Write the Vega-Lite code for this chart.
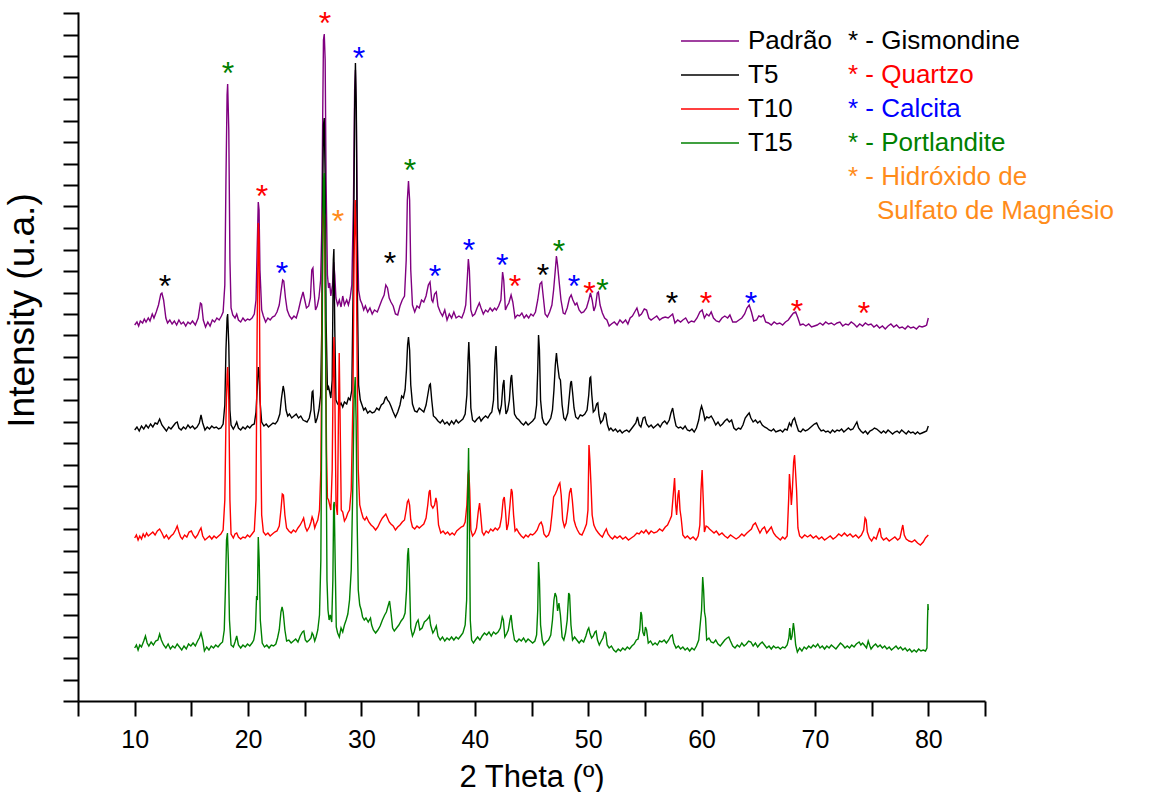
{
  "$schema": "https://vega.github.io/schema/vega-lite/v6.json",
  "width": 907,
  "height": 689,
  "autosize": "none",
  "padding": {"left": 78, "top": 12, "right": 180, "bottom": 91},
  "datasets": {
    "padrao": [
      {"theta":10.0,"int":376},{"theta":10.2,"int":379},{"theta":10.35,"int":375},{"theta":10.5,"int":380},{"theta":10.7,"int":378},{"theta":10.85,"int":382},{"theta":11.0,"int":379},{"theta":11.2,"int":383},{"theta":11.35,"int":380},{"theta":11.55,"int":387},{"theta":11.7,"int":383},{"theta":11.9,"int":389},{"theta":12.1,"int":396},{"theta":12.3,"int":407},{"theta":12.4,"int":408},{"theta":12.55,"int":401},{"theta":12.75,"int":383},{"theta":12.9,"int":378},{"theta":13.1,"int":381},{"theta":13.3,"int":377},{"theta":13.5,"int":380},{"theta":13.7,"int":376},{"theta":13.9,"int":381},{"theta":14.1,"int":377},{"theta":14.3,"int":379},{"theta":14.5,"int":375},{"theta":14.7,"int":379},{"theta":14.9,"int":377},{"theta":15.1,"int":380},{"theta":15.35,"int":376},{"theta":15.6,"int":383},{"theta":15.8,"int":398},{"theta":15.9,"int":397},{"theta":16.05,"int":381},{"theta":16.25,"int":374},{"theta":16.45,"int":379},{"theta":16.65,"int":375},{"theta":16.85,"int":381},{"theta":17.05,"int":379},{"theta":17.25,"int":383},{"theta":17.45,"int":381},{"theta":17.65,"int":385},{"theta":17.8,"int":389},{"theta":17.95,"int":416},{"theta":18.05,"int":521},{"theta":18.15,"int":606},{"theta":18.2,"int":617},{"theta":18.3,"int":571},{"theta":18.4,"int":441},{"theta":18.5,"int":393},{"theta":18.65,"int":386},{"theta":18.85,"int":383},{"theta":19.0,"int":387},{"theta":19.15,"int":381},{"theta":19.35,"int":379},{"theta":19.55,"int":383},{"theta":19.75,"int":380},{"theta":19.95,"int":382},{"theta":20.15,"int":381},{"theta":20.35,"int":383},{"theta":20.55,"int":387},{"theta":20.7,"int":401},{"theta":20.8,"int":451},{"theta":20.9,"int":499},{"theta":20.97,"int":491},{"theta":21.05,"int":431},{"theta":21.2,"int":391},{"theta":21.35,"int":385},{"theta":21.55,"int":379},{"theta":21.75,"int":383},{"theta":21.95,"int":381},{"theta":22.15,"int":384},{"theta":22.35,"int":385},{"theta":22.55,"int":389},{"theta":22.75,"int":396},{"theta":22.9,"int":409},{"theta":23.05,"int":421},{"theta":23.15,"int":420},{"theta":23.3,"int":403},{"theta":23.45,"int":391},{"theta":23.65,"int":385},{"theta":23.85,"int":382},{"theta":24.05,"int":385},{"theta":24.25,"int":383},{"theta":24.45,"int":391},{"theta":24.65,"int":401},{"theta":24.85,"int":409},{"theta":25.0,"int":401},{"theta":25.15,"int":393},{"theta":25.35,"int":395},{"theta":25.5,"int":403},{"theta":25.62,"int":431},{"theta":25.72,"int":433},{"theta":25.82,"int":411},{"theta":25.95,"int":391},{"theta":26.1,"int":395},{"theta":26.25,"int":403},{"theta":26.4,"int":421},{"theta":26.5,"int":471},{"theta":26.58,"int":581},{"theta":26.65,"int":661},{"theta":26.72,"int":667},{"theta":26.8,"int":641},{"theta":26.88,"int":521},{"theta":27.0,"int":426},{"theta":27.1,"int":413},{"theta":27.2,"int":418},{"theta":27.3,"int":405},{"theta":27.45,"int":416},{"theta":27.55,"int":439},{"theta":27.65,"int":426},{"theta":27.75,"int":403},{"theta":27.9,"int":396},{"theta":28.05,"int":401},{"theta":28.2,"int":394},{"theta":28.35,"int":405},{"theta":28.5,"int":396},{"theta":28.7,"int":401},{"theta":28.85,"int":396},{"theta":29.0,"int":403},{"theta":29.15,"int":416},{"theta":29.3,"int":501},{"theta":29.4,"int":611},{"theta":29.47,"int":631},{"theta":29.55,"int":581},{"theta":29.65,"int":461},{"theta":29.75,"int":411},{"theta":29.9,"int":401},{"theta":30.05,"int":397},{"theta":30.2,"int":391},{"theta":30.35,"int":395},{"theta":30.55,"int":389},{"theta":30.75,"int":393},{"theta":30.95,"int":387},{"theta":31.15,"int":391},{"theta":31.4,"int":389},{"theta":31.6,"int":395},{"theta":31.8,"int":401},{"theta":32.0,"int":406},{"theta":32.15,"int":416},{"theta":32.3,"int":413},{"theta":32.45,"int":403},{"theta":32.6,"int":399},{"theta":32.8,"int":395},{"theta":33.0,"int":387},{"theta":33.2,"int":386},{"theta":33.4,"int":395},{"theta":33.6,"int":401},{"theta":33.8,"int":405},{"theta":33.95,"int":441},{"theta":34.05,"int":501},{"theta":34.15,"int":520},{"theta":34.25,"int":501},{"theta":34.35,"int":431},{"theta":34.5,"int":396},{"theta":34.7,"int":389},{"theta":34.9,"int":395},{"theta":35.1,"int":393},{"theta":35.3,"int":401},{"theta":35.5,"int":399},{"theta":35.7,"int":405},{"theta":35.9,"int":416},{"theta":36.05,"int":419},{"theta":36.2,"int":401},{"theta":36.3,"int":399},{"theta":36.45,"int":407},{"theta":36.6,"int":409},{"theta":36.75,"int":395},{"theta":36.95,"int":389},{"theta":37.15,"int":385},{"theta":37.35,"int":391},{"theta":37.55,"int":381},{"theta":37.75,"int":387},{"theta":37.95,"int":383},{"theta":38.15,"int":389},{"theta":38.35,"int":383},{"theta":38.6,"int":385},{"theta":38.85,"int":383},{"theta":39.05,"int":389},{"theta":39.2,"int":396},{"theta":39.33,"int":421},{"theta":39.43,"int":442},{"theta":39.52,"int":431},{"theta":39.65,"int":391},{"theta":39.8,"int":385},{"theta":40.0,"int":387},{"theta":40.2,"int":393},{"theta":40.4,"int":398},{"theta":40.55,"int":393},{"theta":40.75,"int":387},{"theta":40.95,"int":391},{"theta":41.15,"int":389},{"theta":41.35,"int":393},{"theta":41.55,"int":390},{"theta":41.75,"int":393},{"theta":41.9,"int":391},{"theta":42.1,"int":395},{"theta":42.3,"int":401},{"theta":42.45,"int":429},{"theta":42.55,"int":421},{"theta":42.7,"int":391},{"theta":42.85,"int":395},{"theta":43.0,"int":398},{"theta":43.2,"int":406},{"theta":43.35,"int":399},{"theta":43.55,"int":383},{"theta":43.75,"int":386},{"theta":43.95,"int":385},{"theta":44.15,"int":388},{"theta":44.35,"int":383},{"theta":44.55,"int":386},{"theta":44.75,"int":383},{"theta":44.95,"int":387},{"theta":45.15,"int":385},{"theta":45.35,"int":389},{"theta":45.55,"int":401},{"theta":45.75,"int":417},{"theta":45.9,"int":419},{"theta":46.05,"int":403},{"theta":46.2,"int":387},{"theta":46.4,"int":384},{"theta":46.6,"int":389},{"theta":46.8,"int":396},{"theta":46.95,"int":411},{"theta":47.1,"int":431},{"theta":47.2,"int":445},{"theta":47.3,"int":436},{"theta":47.45,"int":418},{"theta":47.6,"int":401},{"theta":47.8,"int":388},{"theta":47.95,"int":387},{"theta":48.15,"int":393},{"theta":48.35,"int":403},{"theta":48.5,"int":406},{"theta":48.65,"int":401},{"theta":48.85,"int":396},{"theta":49.0,"int":398},{"theta":49.2,"int":391},{"theta":49.4,"int":388},{"theta":49.6,"int":389},{"theta":49.85,"int":393},{"theta":50.05,"int":401},{"theta":50.2,"int":408},{"theta":50.35,"int":401},{"theta":50.5,"int":390},{"theta":50.65,"int":395},{"theta":50.8,"int":408},{"theta":50.9,"int":409},{"theta":51.05,"int":396},{"theta":51.25,"int":388},{"theta":51.45,"int":383},{"theta":51.65,"int":381},{"theta":51.85,"int":375},{"theta":52.05,"int":377},{"theta":52.3,"int":379},{"theta":52.55,"int":376},{"theta":52.8,"int":381},{"theta":53.05,"int":378},{"theta":53.3,"int":381},{"theta":53.5,"int":377},{"theta":53.7,"int":383},{"theta":53.9,"int":385},{"theta":54.1,"int":389},{"theta":54.3,"int":393},{"theta":54.5,"int":385},{"theta":54.7,"int":387},{"theta":54.95,"int":392},{"theta":55.15,"int":391},{"theta":55.35,"int":383},{"theta":55.55,"int":381},{"theta":55.8,"int":383},{"theta":56.05,"int":385},{"theta":56.3,"int":381},{"theta":56.55,"int":383},{"theta":56.8,"int":384},{"theta":57.05,"int":383},{"theta":57.25,"int":385},{"theta":57.45,"int":387},{"theta":57.65,"int":378},{"theta":57.9,"int":381},{"theta":58.15,"int":379},{"theta":58.35,"int":381},{"theta":58.6,"int":383},{"theta":58.85,"int":378},{"theta":59.1,"int":380},{"theta":59.35,"int":379},{"theta":59.6,"int":383},{"theta":59.85,"int":389},{"theta":60.05,"int":391},{"theta":60.25,"int":383},{"theta":60.45,"int":387},{"theta":60.65,"int":385},{"theta":60.85,"int":389},{"theta":61.05,"int":383},{"theta":61.3,"int":380},{"theta":61.55,"int":379},{"theta":61.8,"int":383},{"theta":62.05,"int":385},{"theta":62.3,"int":383},{"theta":62.5,"int":386},{"theta":62.75,"int":379},{"theta":63.05,"int":379},{"theta":63.3,"int":381},{"theta":63.55,"int":383},{"theta":63.8,"int":387},{"theta":64.0,"int":393},{"theta":64.2,"int":396},{"theta":64.4,"int":389},{"theta":64.6,"int":380},{"theta":64.85,"int":381},{"theta":65.05,"int":385},{"theta":65.25,"int":384},{"theta":65.45,"int":386},{"theta":65.65,"int":379},{"theta":65.9,"int":378},{"theta":66.15,"int":376},{"theta":66.4,"int":379},{"theta":66.65,"int":377},{"theta":66.9,"int":378},{"theta":67.15,"int":376},{"theta":67.4,"int":379},{"theta":67.65,"int":381},{"theta":67.9,"int":385},{"theta":68.1,"int":388},{"theta":68.3,"int":389},{"theta":68.5,"int":383},{"theta":68.7,"int":376},{"theta":68.95,"int":377},{"theta":69.2,"int":375},{"theta":69.45,"int":377},{"theta":69.7,"int":374},{"theta":69.95,"int":375},{"theta":70.2,"int":376},{"theta":70.45,"int":378},{"theta":70.7,"int":376},{"theta":70.95,"int":379},{"theta":71.2,"int":377},{"theta":71.45,"int":378},{"theta":71.7,"int":376},{"theta":71.95,"int":378},{"theta":72.2,"int":379},{"theta":72.45,"int":375},{"theta":72.7,"int":377},{"theta":72.95,"int":376},{"theta":73.2,"int":379},{"theta":73.45,"int":377},{"theta":73.7,"int":374},{"theta":73.95,"int":377},{"theta":74.2,"int":375},{"theta":74.45,"int":378},{"theta":74.7,"int":376},{"theta":74.95,"int":377},{"theta":75.2,"int":374},{"theta":75.45,"int":376},{"theta":75.7,"int":373},{"theta":75.95,"int":375},{"theta":76.2,"int":372},{"theta":76.45,"int":375},{"theta":76.7,"int":377},{"theta":76.95,"int":374},{"theta":77.2,"int":376},{"theta":77.45,"int":373},{"theta":77.7,"int":374},{"theta":77.95,"int":372},{"theta":78.2,"int":375},{"theta":78.45,"int":373},{"theta":78.7,"int":374},{"theta":78.95,"int":372},{"theta":79.2,"int":375},{"theta":79.45,"int":374},{"theta":79.7,"int":375},{"theta":79.85,"int":376},{"theta":80.0,"int":383}
    ],
    "t5": [
      {"theta":10.0,"int":271},{"theta":10.2,"int":274},{"theta":10.4,"int":270},{"theta":10.6,"int":275},{"theta":10.8,"int":272},{"theta":11.0,"int":276},{"theta":11.2,"int":273},{"theta":11.4,"int":277},{"theta":11.6,"int":274},{"theta":11.8,"int":278},{"theta":12.0,"int":277},{"theta":12.2,"int":282},{"theta":12.4,"int":276},{"theta":12.6,"int":273},{"theta":12.8,"int":270},{"theta":13.0,"int":274},{"theta":13.2,"int":272},{"theta":13.4,"int":275},{"theta":13.6,"int":278},{"theta":13.75,"int":279},{"theta":13.9,"int":273},{"theta":14.1,"int":271},{"theta":14.3,"int":274},{"theta":14.5,"int":272},{"theta":14.7,"int":276},{"theta":14.9,"int":273},{"theta":15.1,"int":275},{"theta":15.3,"int":272},{"theta":15.5,"int":274},{"theta":15.7,"int":278},{"theta":15.85,"int":286},{"theta":16.0,"int":278},{"theta":16.2,"int":271},{"theta":16.4,"int":274},{"theta":16.6,"int":272},{"theta":16.8,"int":275},{"theta":17.0,"int":273},{"theta":17.2,"int":274},{"theta":17.4,"int":272},{"theta":17.6,"int":273},{"theta":17.8,"int":277},{"theta":17.95,"int":296},{"theta":18.05,"int":351},{"theta":18.15,"int":383},{"theta":18.2,"int":387},{"theta":18.3,"int":356},{"theta":18.4,"int":291},{"theta":18.5,"int":276},{"theta":18.7,"int":272},{"theta":18.85,"int":275},{"theta":19.0,"int":279},{"theta":19.15,"int":273},{"theta":19.35,"int":271},{"theta":19.55,"int":274},{"theta":19.75,"int":272},{"theta":19.95,"int":275},{"theta":20.15,"int":273},{"theta":20.35,"int":276},{"theta":20.55,"int":277},{"theta":20.7,"int":289},{"theta":20.8,"int":311},{"theta":20.9,"int":334},{"theta":20.97,"int":329},{"theta":21.05,"int":301},{"theta":21.2,"int":279},{"theta":21.4,"int":275},{"theta":21.6,"int":277},{"theta":21.8,"int":274},{"theta":22.0,"int":276},{"theta":22.2,"int":278},{"theta":22.4,"int":277},{"theta":22.6,"int":280},{"theta":22.8,"int":287},{"theta":22.95,"int":303},{"theta":23.1,"int":315},{"theta":23.2,"int":309},{"theta":23.35,"int":291},{"theta":23.5,"int":285},{"theta":23.65,"int":287},{"theta":23.85,"int":283},{"theta":24.05,"int":285},{"theta":24.25,"int":287},{"theta":24.45,"int":283},{"theta":24.65,"int":285},{"theta":24.85,"int":281},{"theta":25.0,"int":280},{"theta":25.2,"int":279},{"theta":25.4,"int":283},{"theta":25.55,"int":291},{"theta":25.65,"int":309},{"theta":25.72,"int":310},{"theta":25.82,"int":291},{"theta":25.95,"int":278},{"theta":26.1,"int":283},{"theta":26.25,"int":291},{"theta":26.4,"int":306},{"theta":26.5,"int":371},{"theta":26.58,"int":501},{"theta":26.65,"int":576},{"theta":26.72,"int":583},{"theta":26.8,"int":521},{"theta":26.88,"int":381},{"theta":27.0,"int":311},{"theta":27.1,"int":314},{"theta":27.2,"int":309},{"theta":27.3,"int":303},{"theta":27.42,"int":321},{"theta":27.52,"int":441},{"theta":27.57,"int":452},{"theta":27.65,"int":371},{"theta":27.75,"int":301},{"theta":27.9,"int":297},{"theta":28.05,"int":295},{"theta":28.2,"int":298},{"theta":28.35,"int":294},{"theta":28.5,"int":299},{"theta":28.7,"int":297},{"theta":28.85,"int":303},{"theta":29.0,"int":301},{"theta":29.15,"int":311},{"theta":29.3,"int":441},{"theta":29.4,"int":591},{"theta":29.47,"int":638},{"theta":29.55,"int":591},{"theta":29.65,"int":401},{"theta":29.75,"int":316},{"theta":29.9,"int":301},{"theta":30.05,"int":296},{"theta":30.2,"int":291},{"theta":30.35,"int":293},{"theta":30.55,"int":288},{"theta":30.75,"int":290},{"theta":30.95,"int":288},{"theta":31.15,"int":289},{"theta":31.35,"int":293},{"theta":31.55,"int":291},{"theta":31.75,"int":296},{"theta":31.95,"int":298},{"theta":32.1,"int":303},{"theta":32.2,"int":304},{"theta":32.3,"int":301},{"theta":32.45,"int":299},{"theta":32.6,"int":295},{"theta":32.8,"int":289},{"theta":33.0,"int":284},{"theta":33.2,"int":289},{"theta":33.4,"int":296},{"theta":33.55,"int":305},{"theta":33.7,"int":303},{"theta":33.85,"int":311},{"theta":33.97,"int":331},{"theta":34.07,"int":356},{"theta":34.15,"int":364},{"theta":34.25,"int":351},{"theta":34.35,"int":316},{"theta":34.5,"int":297},{"theta":34.7,"int":290},{"theta":34.9,"int":289},{"theta":35.1,"int":293},{"theta":35.3,"int":291},{"theta":35.5,"int":289},{"theta":35.7,"int":296},{"theta":35.85,"int":306},{"theta":36.0,"int":316},{"theta":36.08,"int":317},{"theta":36.2,"int":301},{"theta":36.35,"int":285},{"theta":36.55,"int":283},{"theta":36.75,"int":280},{"theta":36.95,"int":278},{"theta":37.15,"int":281},{"theta":37.35,"int":277},{"theta":37.55,"int":279},{"theta":37.75,"int":276},{"theta":37.95,"int":280},{"theta":38.15,"int":277},{"theta":38.35,"int":281},{"theta":38.55,"int":278},{"theta":38.75,"int":280},{"theta":38.95,"int":282},{"theta":39.15,"int":287},{"theta":39.3,"int":306},{"theta":39.4,"int":341},{"theta":39.47,"int":359},{"theta":39.55,"int":336},{"theta":39.65,"int":293},{"theta":39.8,"int":281},{"theta":40.0,"int":279},{"theta":40.2,"int":282},{"theta":40.4,"int":284},{"theta":40.55,"int":280},{"theta":40.75,"int":283},{"theta":40.95,"int":285},{"theta":41.15,"int":283},{"theta":41.35,"int":287},{"theta":41.5,"int":289},{"theta":41.65,"int":301},{"theta":41.78,"int":341},{"theta":41.87,"int":355},{"theta":41.95,"int":331},{"theta":42.05,"int":293},{"theta":42.2,"int":288},{"theta":42.35,"int":296},{"theta":42.48,"int":316},{"theta":42.57,"int":321},{"theta":42.65,"int":301},{"theta":42.75,"int":287},{"theta":42.9,"int":291},{"theta":43.05,"int":301},{"theta":43.18,"int":323},{"theta":43.25,"int":326},{"theta":43.35,"int":309},{"theta":43.5,"int":287},{"theta":43.7,"int":283},{"theta":43.9,"int":281},{"theta":44.1,"int":278},{"theta":44.3,"int":276},{"theta":44.5,"int":279},{"theta":44.7,"int":276},{"theta":44.9,"int":278},{"theta":45.1,"int":280},{"theta":45.3,"int":283},{"theta":45.45,"int":296},{"theta":45.55,"int":331},{"theta":45.62,"int":366},{"theta":45.7,"int":351},{"theta":45.8,"int":301},{"theta":45.95,"int":283},{"theta":46.1,"int":278},{"theta":46.3,"int":276},{"theta":46.5,"int":279},{"theta":46.7,"int":283},{"theta":46.85,"int":291},{"theta":46.98,"int":311},{"theta":47.1,"int":336},{"theta":47.2,"int":348},{"theta":47.3,"int":336},{"theta":47.45,"int":323},{"theta":47.55,"int":321},{"theta":47.7,"int":296},{"theta":47.85,"int":283},{"theta":48.0,"int":281},{"theta":48.2,"int":288},{"theta":48.35,"int":306},{"theta":48.45,"int":318},{"theta":48.52,"int":320},{"theta":48.62,"int":309},{"theta":48.75,"int":293},{"theta":48.9,"int":284},{"theta":49.1,"int":282},{"theta":49.3,"int":286},{"theta":49.5,"int":285},{"theta":49.7,"int":287},{"theta":49.9,"int":291},{"theta":50.05,"int":306},{"theta":50.15,"int":323},{"theta":50.22,"int":324},{"theta":50.32,"int":306},{"theta":50.45,"int":289},{"theta":50.6,"int":291},{"theta":50.75,"int":297},{"theta":50.85,"int":298},{"theta":50.95,"int":286},{"theta":51.1,"int":278},{"theta":51.3,"int":281},{"theta":51.45,"int":288},{"theta":51.55,"int":287},{"theta":51.7,"int":276},{"theta":51.85,"int":271},{"theta":52.0,"int":273},{"theta":52.2,"int":270},{"theta":52.4,"int":272},{"theta":52.6,"int":269},{"theta":52.8,"int":271},{"theta":53.0,"int":268},{"theta":53.2,"int":270},{"theta":53.4,"int":271},{"theta":53.6,"int":269},{"theta":53.8,"int":272},{"theta":54.0,"int":275},{"theta":54.2,"int":278},{"theta":54.35,"int":284},{"theta":54.5,"int":276},{"theta":54.65,"int":274},{"theta":54.85,"int":283},{"theta":55.0,"int":284},{"theta":55.15,"int":277},{"theta":55.35,"int":274},{"theta":55.55,"int":276},{"theta":55.75,"int":273},{"theta":55.95,"int":275},{"theta":56.15,"int":277},{"theta":56.35,"int":274},{"theta":56.55,"int":278},{"theta":56.75,"int":280},{"theta":56.95,"int":277},{"theta":57.15,"int":281},{"theta":57.3,"int":288},{"theta":57.45,"int":293},{"theta":57.6,"int":283},{"theta":57.75,"int":275},{"theta":57.95,"int":273},{"theta":58.15,"int":274},{"theta":58.35,"int":272},{"theta":58.55,"int":275},{"theta":58.75,"int":271},{"theta":58.95,"int":270},{"theta":59.15,"int":272},{"theta":59.35,"int":269},{"theta":59.55,"int":273},{"theta":59.75,"int":281},{"theta":59.9,"int":291},{"theta":60.0,"int":295},{"theta":60.15,"int":289},{"theta":60.3,"int":281},{"theta":60.45,"int":284},{"theta":60.65,"int":283},{"theta":60.85,"int":285},{"theta":61.05,"int":281},{"theta":61.25,"int":276},{"theta":61.45,"int":279},{"theta":61.65,"int":275},{"theta":61.85,"int":277},{"theta":62.05,"int":280},{"theta":62.25,"int":282},{"theta":62.45,"int":279},{"theta":62.65,"int":281},{"theta":62.85,"int":273},{"theta":63.05,"int":271},{"theta":63.25,"int":273},{"theta":63.45,"int":272},{"theta":63.65,"int":276},{"theta":63.85,"int":283},{"theta":64.05,"int":286},{"theta":64.2,"int":288},{"theta":64.35,"int":283},{"theta":64.55,"int":279},{"theta":64.75,"int":281},{"theta":64.95,"int":278},{"theta":65.15,"int":280},{"theta":65.35,"int":276},{"theta":65.55,"int":274},{"theta":65.75,"int":273},{"theta":65.95,"int":271},{"theta":66.15,"int":270},{"theta":66.35,"int":272},{"theta":66.55,"int":269},{"theta":66.75,"int":270},{"theta":66.95,"int":271},{"theta":67.15,"int":269},{"theta":67.35,"int":272},{"theta":67.55,"int":271},{"theta":67.75,"int":278},{"theta":67.9,"int":275},{"theta":68.05,"int":281},{"theta":68.2,"int":283},{"theta":68.35,"int":277},{"theta":68.55,"int":270},{"theta":68.75,"int":269},{"theta":68.95,"int":272},{"theta":69.15,"int":270},{"theta":69.35,"int":271},{"theta":69.55,"int":273},{"theta":69.75,"int":275},{"theta":69.95,"int":277},{"theta":70.15,"int":278},{"theta":70.35,"int":273},{"theta":70.55,"int":270},{"theta":70.75,"int":271},{"theta":70.95,"int":269},{"theta":71.15,"int":270},{"theta":71.35,"int":268},{"theta":71.55,"int":271},{"theta":71.75,"int":269},{"theta":71.95,"int":271},{"theta":72.15,"int":270},{"theta":72.35,"int":272},{"theta":72.55,"int":269},{"theta":72.75,"int":271},{"theta":72.95,"int":273},{"theta":73.15,"int":271},{"theta":73.35,"int":272},{"theta":73.55,"int":276},{"theta":73.7,"int":279},{"theta":73.85,"int":273},{"theta":74.05,"int":270},{"theta":74.25,"int":268},{"theta":74.45,"int":270},{"theta":74.65,"int":267},{"theta":74.85,"int":270},{"theta":75.05,"int":271},{"theta":75.25,"int":273},{"theta":75.45,"int":272},{"theta":75.65,"int":270},{"theta":75.85,"int":268},{"theta":76.05,"int":270},{"theta":76.25,"int":268},{"theta":76.45,"int":271},{"theta":76.65,"int":269},{"theta":76.85,"int":267},{"theta":77.05,"int":269},{"theta":77.25,"int":270},{"theta":77.45,"int":268},{"theta":77.65,"int":271},{"theta":77.85,"int":269},{"theta":78.05,"int":267},{"theta":78.25,"int":270},{"theta":78.45,"int":268},{"theta":78.65,"int":269},{"theta":78.85,"int":267},{"theta":79.05,"int":269},{"theta":79.25,"int":267},{"theta":79.45,"int":268},{"theta":79.65,"int":269},{"theta":79.85,"int":270},{"theta":80.0,"int":275}
    ],
    "t10": [
      {"theta":10.0,"int":163},{"theta":10.15,"int":166},{"theta":10.3,"int":161},{"theta":10.45,"int":165},{"theta":10.6,"int":162},{"theta":10.75,"int":167},{"theta":10.9,"int":164},{"theta":11.05,"int":168},{"theta":11.2,"int":165},{"theta":11.4,"int":167},{"theta":11.6,"int":169},{"theta":11.8,"int":166},{"theta":12.0,"int":170},{"theta":12.2,"int":172},{"theta":12.4,"int":168},{"theta":12.6,"int":163},{"theta":12.8,"int":166},{"theta":13.0,"int":162},{"theta":13.2,"int":165},{"theta":13.4,"int":167},{"theta":13.6,"int":171},{"theta":13.75,"int":175},{"theta":13.9,"int":169},{"theta":14.05,"int":164},{"theta":14.2,"int":162},{"theta":14.4,"int":166},{"theta":14.6,"int":164},{"theta":14.8,"int":169},{"theta":15.0,"int":170},{"theta":15.15,"int":166},{"theta":15.35,"int":163},{"theta":15.55,"int":166},{"theta":15.7,"int":170},{"theta":15.85,"int":173},{"theta":16.0,"int":165},{"theta":16.2,"int":161},{"theta":16.4,"int":163},{"theta":16.6,"int":165},{"theta":16.8,"int":162},{"theta":17.0,"int":165},{"theta":17.2,"int":163},{"theta":17.4,"int":165},{"theta":17.6,"int":167},{"theta":17.8,"int":171},{"theta":17.95,"int":201},{"theta":18.05,"int":281},{"theta":18.15,"int":326},{"theta":18.2,"int":334},{"theta":18.3,"int":301},{"theta":18.4,"int":201},{"theta":18.5,"int":167},{"theta":18.7,"int":163},{"theta":18.85,"int":167},{"theta":19.0,"int":168},{"theta":19.15,"int":164},{"theta":19.35,"int":162},{"theta":19.55,"int":164},{"theta":19.75,"int":163},{"theta":19.95,"int":166},{"theta":20.15,"int":164},{"theta":20.35,"int":167},{"theta":20.55,"int":170},{"theta":20.7,"int":201},{"theta":20.8,"int":371},{"theta":20.9,"int":478},{"theta":20.97,"int":461},{"theta":21.05,"int":321},{"theta":21.2,"int":186},{"theta":21.35,"int":169},{"theta":21.55,"int":166},{"theta":21.75,"int":168},{"theta":21.95,"int":165},{"theta":22.15,"int":167},{"theta":22.35,"int":169},{"theta":22.55,"int":170},{"theta":22.75,"int":175},{"theta":22.9,"int":191},{"theta":23.02,"int":207},{"theta":23.12,"int":206},{"theta":23.25,"int":186},{"theta":23.4,"int":173},{"theta":23.6,"int":170},{"theta":23.8,"int":168},{"theta":24.0,"int":171},{"theta":24.2,"int":169},{"theta":24.4,"int":173},{"theta":24.6,"int":176},{"theta":24.78,"int":180},{"theta":24.9,"int":183},{"theta":25.05,"int":174},{"theta":25.2,"int":170},{"theta":25.4,"int":174},{"theta":25.55,"int":179},{"theta":25.65,"int":184},{"theta":25.75,"int":181},{"theta":25.88,"int":173},{"theta":26.0,"int":177},{"theta":26.15,"int":181},{"theta":26.3,"int":191},{"theta":26.42,"int":231},{"theta":26.52,"int":371},{"theta":26.6,"int":471},{"theta":26.67,"int":496},{"theta":26.74,"int":486},{"theta":26.82,"int":381},{"theta":26.92,"int":251},{"theta":27.0,"int":203},{"theta":27.1,"int":201},{"theta":27.2,"int":196},{"theta":27.3,"int":191},{"theta":27.42,"int":231},{"theta":27.52,"int":341},{"theta":27.58,"int":364},{"theta":27.66,"int":301},{"theta":27.76,"int":196},{"theta":27.88,"int":186},{"theta":27.97,"int":281},{"theta":28.04,"int":348},{"theta":28.12,"int":281},{"theta":28.22,"int":191},{"theta":28.35,"int":189},{"theta":28.5,"int":180},{"theta":28.65,"int":183},{"theta":28.8,"int":188},{"theta":28.95,"int":191},{"theta":29.1,"int":211},{"theta":29.25,"int":301},{"theta":29.35,"int":441},{"theta":29.45,"int":501},{"theta":29.53,"int":461},{"theta":29.62,"int":341},{"theta":29.72,"int":231},{"theta":29.85,"int":196},{"theta":30.0,"int":189},{"theta":30.15,"int":183},{"theta":30.3,"int":181},{"theta":30.45,"int":184},{"theta":30.65,"int":179},{"theta":30.85,"int":176},{"theta":31.05,"int":174},{"theta":31.25,"int":171},{"theta":31.45,"int":174},{"theta":31.65,"int":179},{"theta":31.85,"int":183},{"theta":32.0,"int":185},{"theta":32.15,"int":187},{"theta":32.3,"int":183},{"theta":32.45,"int":179},{"theta":32.6,"int":177},{"theta":32.8,"int":175},{"theta":33.0,"int":171},{"theta":33.2,"int":174},{"theta":33.4,"int":176},{"theta":33.6,"int":179},{"theta":33.8,"int":181},{"theta":33.95,"int":191},{"theta":34.05,"int":199},{"theta":34.15,"int":201},{"theta":34.25,"int":196},{"theta":34.35,"int":181},{"theta":34.5,"int":174},{"theta":34.7,"int":172},{"theta":34.9,"int":175},{"theta":35.1,"int":173},{"theta":35.3,"int":175},{"theta":35.5,"int":177},{"theta":35.7,"int":183},{"theta":35.85,"int":196},{"theta":35.97,"int":209},{"theta":36.05,"int":211},{"theta":36.15,"int":196},{"theta":36.3,"int":193},{"theta":36.45,"int":196},{"theta":36.57,"int":203},{"theta":36.65,"int":199},{"theta":36.8,"int":176},{"theta":37.0,"int":168},{"theta":37.2,"int":170},{"theta":37.4,"int":167},{"theta":37.6,"int":169},{"theta":37.8,"int":166},{"theta":38.0,"int":168},{"theta":38.2,"int":166},{"theta":38.4,"int":170},{"theta":38.6,"int":172},{"theta":38.8,"int":174},{"theta":39.0,"int":175},{"theta":39.15,"int":179},{"theta":39.3,"int":196},{"theta":39.4,"int":226},{"theta":39.47,"int":231},{"theta":39.55,"int":211},{"theta":39.65,"int":171},{"theta":39.8,"int":165},{"theta":40.0,"int":168},{"theta":40.15,"int":173},{"theta":40.3,"int":189},{"theta":40.42,"int":198},{"theta":40.52,"int":186},{"theta":40.65,"int":169},{"theta":40.8,"int":166},{"theta":41.0,"int":170},{"theta":41.2,"int":168},{"theta":41.4,"int":172},{"theta":41.6,"int":170},{"theta":41.8,"int":173},{"theta":42.0,"int":171},{"theta":42.2,"int":174},{"theta":42.35,"int":183},{"theta":42.5,"int":201},{"theta":42.6,"int":204},{"theta":42.7,"int":191},{"theta":42.82,"int":171},{"theta":42.95,"int":177},{"theta":43.1,"int":196},{"theta":43.22,"int":212},{"theta":43.3,"int":209},{"theta":43.42,"int":186},{"theta":43.55,"int":170},{"theta":43.7,"int":172},{"theta":43.9,"int":168},{"theta":44.1,"int":165},{"theta":44.3,"int":163},{"theta":44.5,"int":166},{"theta":44.7,"int":164},{"theta":44.9,"int":167},{"theta":45.1,"int":166},{"theta":45.3,"int":168},{"theta":45.5,"int":171},{"theta":45.7,"int":177},{"theta":45.85,"int":179},{"theta":45.98,"int":175},{"theta":46.1,"int":167},{"theta":46.3,"int":164},{"theta":46.5,"int":166},{"theta":46.65,"int":171},{"theta":46.8,"int":186},{"theta":46.95,"int":204},{"theta":47.1,"int":207},{"theta":47.25,"int":211},{"theta":47.4,"int":216},{"theta":47.5,"int":218},{"theta":47.62,"int":206},{"theta":47.75,"int":181},{"theta":47.9,"int":174},{"theta":48.05,"int":178},{"theta":48.2,"int":191},{"theta":48.35,"int":208},{"theta":48.48,"int":213},{"theta":48.6,"int":201},{"theta":48.75,"int":181},{"theta":48.9,"int":175},{"theta":49.05,"int":171},{"theta":49.25,"int":167},{"theta":49.45,"int":166},{"theta":49.65,"int":171},{"theta":49.85,"int":177},{"theta":49.98,"int":191},{"theta":50.07,"int":256},{"theta":50.15,"int":241},{"theta":50.25,"int":216},{"theta":50.35,"int":186},{"theta":50.5,"int":176},{"theta":50.7,"int":171},{"theta":50.9,"int":168},{"theta":51.05,"int":166},{"theta":51.25,"int":164},{"theta":51.45,"int":169},{"theta":51.6,"int":172},{"theta":51.75,"int":167},{"theta":51.95,"int":164},{"theta":52.15,"int":162},{"theta":52.35,"int":165},{"theta":52.55,"int":163},{"theta":52.8,"int":165},{"theta":53.05,"int":162},{"theta":53.3,"int":164},{"theta":53.55,"int":161},{"theta":53.8,"int":163},{"theta":54.05,"int":165},{"theta":54.3,"int":168},{"theta":54.5,"int":167},{"theta":54.7,"int":170},{"theta":54.9,"int":168},{"theta":55.1,"int":171},{"theta":55.35,"int":167},{"theta":55.55,"int":170},{"theta":55.8,"int":168},{"theta":56.05,"int":169},{"theta":56.3,"int":172},{"theta":56.55,"int":170},{"theta":56.8,"int":174},{"theta":57.0,"int":176},{"theta":57.2,"int":181},{"theta":57.35,"int":185},{"theta":57.5,"int":206},{"theta":57.62,"int":223},{"theta":57.72,"int":196},{"theta":57.8,"int":186},{"theta":57.92,"int":206},{"theta":58.0,"int":211},{"theta":58.1,"int":191},{"theta":58.2,"int":183},{"theta":58.35,"int":166},{"theta":58.55,"int":163},{"theta":58.75,"int":165},{"theta":59.0,"int":162},{"theta":59.25,"int":164},{"theta":59.5,"int":161},{"theta":59.7,"int":165},{"theta":59.85,"int":176},{"theta":59.95,"int":211},{"theta":60.05,"int":231},{"theta":60.15,"int":201},{"theta":60.25,"int":169},{"theta":60.4,"int":175},{"theta":60.55,"int":174},{"theta":60.7,"int":172},{"theta":60.9,"int":170},{"theta":61.1,"int":168},{"theta":61.3,"int":170},{"theta":61.55,"int":166},{"theta":61.8,"int":168},{"theta":62.05,"int":165},{"theta":62.3,"int":163},{"theta":62.55,"int":166},{"theta":62.8,"int":164},{"theta":63.05,"int":162},{"theta":63.3,"int":164},{"theta":63.55,"int":167},{"theta":63.75,"int":165},{"theta":64.0,"int":168},{"theta":64.2,"int":170},{"theta":64.4,"int":172},{"theta":64.55,"int":176},{"theta":64.75,"int":178},{"theta":64.95,"int":173},{"theta":65.15,"int":168},{"theta":65.35,"int":172},{"theta":65.55,"int":174},{"theta":65.75,"int":168},{"theta":65.95,"int":171},{"theta":66.15,"int":174},{"theta":66.35,"int":168},{"theta":66.55,"int":165},{"theta":66.75,"int":163},{"theta":66.95,"int":161},{"theta":67.15,"int":164},{"theta":67.35,"int":162},{"theta":67.55,"int":165},{"theta":67.68,"int":201},{"theta":67.75,"int":227},{"theta":67.85,"int":211},{"theta":67.92,"int":196},{"theta":68.0,"int":209},{"theta":68.12,"int":239},{"theta":68.2,"int":246},{"theta":68.28,"int":231},{"theta":68.38,"int":211},{"theta":68.5,"int":173},{"theta":68.65,"int":165},{"theta":68.85,"int":163},{"theta":69.1,"int":166},{"theta":69.35,"int":164},{"theta":69.6,"int":166},{"theta":69.85,"int":163},{"theta":70.1,"int":165},{"theta":70.35,"int":162},{"theta":70.6,"int":164},{"theta":70.85,"int":161},{"theta":71.1,"int":163},{"theta":71.35,"int":165},{"theta":71.6,"int":162},{"theta":71.85,"int":164},{"theta":72.1,"int":167},{"theta":72.35,"int":165},{"theta":72.6,"int":168},{"theta":72.85,"int":165},{"theta":73.1,"int":167},{"theta":73.35,"int":164},{"theta":73.6,"int":166},{"theta":73.85,"int":163},{"theta":74.1,"int":166},{"theta":74.3,"int":171},{"theta":74.42,"int":183},{"theta":74.52,"int":181},{"theta":74.62,"int":169},{"theta":74.8,"int":163},{"theta":75.0,"int":160},{"theta":75.2,"int":164},{"theta":75.4,"int":162},{"theta":75.6,"int":169},{"theta":75.72,"int":173},{"theta":75.85,"int":164},{"theta":76.05,"int":161},{"theta":76.3,"int":163},{"theta":76.55,"int":160},{"theta":76.8,"int":162},{"theta":77.05,"int":164},{"theta":77.3,"int":161},{"theta":77.5,"int":163},{"theta":77.65,"int":171},{"theta":77.75,"int":176},{"theta":77.88,"int":166},{"theta":78.05,"int":162},{"theta":78.3,"int":160},{"theta":78.55,"int":159},{"theta":78.8,"int":161},{"theta":79.05,"int":158},{"theta":79.3,"int":156},{"theta":79.55,"int":159},{"theta":79.75,"int":163},{"theta":80.0,"int":166}
    ],
    "t15": [
      {"theta":10.0,"int":53},{"theta":10.15,"int":56},{"theta":10.3,"int":51},{"theta":10.45,"int":56},{"theta":10.6,"int":54},{"theta":10.8,"int":60},{"theta":10.95,"int":65},{"theta":11.1,"int":58},{"theta":11.25,"int":55},{"theta":11.45,"int":59},{"theta":11.65,"int":56},{"theta":11.85,"int":60},{"theta":12.05,"int":61},{"theta":12.2,"int":67},{"theta":12.35,"int":61},{"theta":12.55,"int":56},{"theta":12.75,"int":53},{"theta":12.95,"int":57},{"theta":13.15,"int":52},{"theta":13.35,"int":55},{"theta":13.55,"int":53},{"theta":13.75,"int":57},{"theta":13.95,"int":54},{"theta":14.15,"int":51},{"theta":14.35,"int":55},{"theta":14.55,"int":52},{"theta":14.75,"int":57},{"theta":14.95,"int":55},{"theta":15.15,"int":58},{"theta":15.35,"int":55},{"theta":15.55,"int":60},{"theta":15.7,"int":63},{"theta":15.85,"int":68},{"theta":16.0,"int":61},{"theta":16.15,"int":50},{"theta":16.35,"int":54},{"theta":16.55,"int":51},{"theta":16.75,"int":55},{"theta":16.95,"int":53},{"theta":17.15,"int":56},{"theta":17.35,"int":54},{"theta":17.55,"int":57},{"theta":17.75,"int":59},{"theta":17.9,"int":71},{"theta":18.0,"int":111},{"theta":18.1,"int":161},{"theta":18.18,"int":168},{"theta":18.26,"int":141},{"theta":18.36,"int":81},{"theta":18.5,"int":56},{"theta":18.7,"int":54},{"theta":18.85,"int":59},{"theta":19.0,"int":65},{"theta":19.15,"int":56},{"theta":19.35,"int":53},{"theta":19.55,"int":56},{"theta":19.75,"int":54},{"theta":19.95,"int":57},{"theta":20.15,"int":55},{"theta":20.35,"int":58},{"theta":20.5,"int":61},{"theta":20.65,"int":71},{"theta":20.75,"int":105},{"theta":20.82,"int":101},{"theta":20.9,"int":164},{"theta":20.98,"int":141},{"theta":21.08,"int":81},{"theta":21.25,"int":58},{"theta":21.45,"int":54},{"theta":21.65,"int":56},{"theta":21.85,"int":53},{"theta":22.05,"int":56},{"theta":22.25,"int":55},{"theta":22.45,"int":57},{"theta":22.6,"int":63},{"theta":22.75,"int":71},{"theta":22.9,"int":89},{"theta":23.0,"int":94},{"theta":23.1,"int":89},{"theta":23.25,"int":71},{"theta":23.4,"int":60},{"theta":23.6,"int":61},{"theta":23.8,"int":58},{"theta":24.0,"int":60},{"theta":24.2,"int":62},{"theta":24.4,"int":59},{"theta":24.6,"int":65},{"theta":24.8,"int":69},{"theta":24.92,"int":70},{"theta":25.05,"int":61},{"theta":25.2,"int":59},{"theta":25.4,"int":61},{"theta":25.55,"int":63},{"theta":25.65,"int":68},{"theta":25.75,"int":66},{"theta":25.88,"int":60},{"theta":26.0,"int":64},{"theta":26.15,"int":71},{"theta":26.3,"int":86},{"theta":26.42,"int":141},{"theta":26.5,"int":281},{"theta":26.58,"int":451},{"theta":26.66,"int":521},{"theta":26.72,"int":528},{"theta":26.8,"int":441},{"theta":26.88,"int":271},{"theta":26.96,"int":121},{"theta":27.05,"int":91},{"theta":27.15,"int":81},{"theta":27.25,"int":86},{"theta":27.38,"int":79},{"theta":27.48,"int":121},{"theta":27.55,"int":196},{"theta":27.6,"int":199},{"theta":27.68,"int":141},{"theta":27.78,"int":74},{"theta":27.9,"int":68},{"theta":28.05,"int":64},{"theta":28.2,"int":73},{"theta":28.35,"int":69},{"theta":28.5,"int":76},{"theta":28.65,"int":81},{"theta":28.8,"int":87},{"theta":28.95,"int":101},{"theta":29.1,"int":131},{"theta":29.25,"int":221},{"theta":29.35,"int":301},{"theta":29.45,"int":324},{"theta":29.53,"int":281},{"theta":29.62,"int":181},{"theta":29.72,"int":111},{"theta":29.85,"int":96},{"theta":29.98,"int":91},{"theta":30.1,"int":84},{"theta":30.25,"int":81},{"theta":30.4,"int":83},{"theta":30.6,"int":79},{"theta":30.8,"int":83},{"theta":30.9,"int":76},{"theta":31.05,"int":71},{"theta":31.25,"int":68},{"theta":31.45,"int":71},{"theta":31.65,"int":75},{"theta":31.85,"int":81},{"theta":32.05,"int":86},{"theta":32.2,"int":89},{"theta":32.35,"int":95},{"theta":32.48,"int":100},{"theta":32.6,"int":89},{"theta":32.75,"int":73},{"theta":32.9,"int":70},{"theta":33.1,"int":73},{"theta":33.3,"int":76},{"theta":33.5,"int":80},{"theta":33.7,"int":83},{"theta":33.85,"int":88},{"theta":33.98,"int":111},{"theta":34.07,"int":146},{"theta":34.14,"int":153},{"theta":34.22,"int":131},{"theta":34.35,"int":73},{"theta":34.5,"int":65},{"theta":34.65,"int":69},{"theta":34.85,"int":78},{"theta":35.0,"int":81},{"theta":35.15,"int":71},{"theta":35.35,"int":73},{"theta":35.55,"int":79},{"theta":35.75,"int":81},{"theta":35.9,"int":83},{"theta":36.0,"int":85},{"theta":36.1,"int":76},{"theta":36.3,"int":68},{"theta":36.45,"int":71},{"theta":36.6,"int":75},{"theta":36.75,"int":65},{"theta":36.95,"int":61},{"theta":37.15,"int":64},{"theta":37.35,"int":60},{"theta":37.55,"int":63},{"theta":37.75,"int":61},{"theta":37.95,"int":64},{"theta":38.15,"int":61},{"theta":38.35,"int":64},{"theta":38.55,"int":62},{"theta":38.75,"int":65},{"theta":38.95,"int":68},{"theta":39.15,"int":76},{"theta":39.28,"int":101},{"theta":39.37,"int":201},{"theta":39.45,"int":253},{"theta":39.52,"int":181},{"theta":39.6,"int":81},{"theta":39.72,"int":61},{"theta":39.88,"int":58},{"theta":40.05,"int":61},{"theta":40.25,"int":64},{"theta":40.45,"int":61},{"theta":40.65,"int":65},{"theta":40.85,"int":68},{"theta":41.05,"int":66},{"theta":41.25,"int":69},{"theta":41.45,"int":65},{"theta":41.65,"int":69},{"theta":41.85,"int":67},{"theta":42.05,"int":69},{"theta":42.25,"int":73},{"theta":42.42,"int":84},{"theta":42.52,"int":81},{"theta":42.65,"int":64},{"theta":42.8,"int":67},{"theta":42.95,"int":71},{"theta":43.1,"int":81},{"theta":43.2,"int":86},{"theta":43.32,"int":73},{"theta":43.5,"int":61},{"theta":43.7,"int":59},{"theta":43.9,"int":62},{"theta":44.1,"int":60},{"theta":44.3,"int":63},{"theta":44.5,"int":59},{"theta":44.7,"int":62},{"theta":44.9,"int":60},{"theta":45.1,"int":58},{"theta":45.3,"int":60},{"theta":45.45,"int":66},{"theta":45.55,"int":91},{"theta":45.62,"int":139},{"theta":45.7,"int":121},{"theta":45.8,"int":76},{"theta":45.95,"int":61},{"theta":46.1,"int":56},{"theta":46.3,"int":59},{"theta":46.5,"int":61},{"theta":46.7,"int":66},{"theta":46.85,"int":81},{"theta":46.98,"int":101},{"theta":47.08,"int":108},{"theta":47.2,"int":104},{"theta":47.3,"int":90},{"theta":47.42,"int":98},{"theta":47.55,"int":86},{"theta":47.7,"int":64},{"theta":47.85,"int":61},{"theta":48.0,"int":68},{"theta":48.15,"int":81},{"theta":48.28,"int":108},{"theta":48.36,"int":106},{"theta":48.48,"int":76},{"theta":48.62,"int":61},{"theta":48.8,"int":64},{"theta":49.0,"int":61},{"theta":49.2,"int":58},{"theta":49.4,"int":61},{"theta":49.6,"int":59},{"theta":49.8,"int":65},{"theta":49.95,"int":71},{"theta":50.05,"int":73},{"theta":50.15,"int":68},{"theta":50.3,"int":63},{"theta":50.45,"int":65},{"theta":50.6,"int":69},{"theta":50.7,"int":70},{"theta":50.82,"int":61},{"theta":50.98,"int":56},{"theta":51.15,"int":60},{"theta":51.3,"int":63},{"theta":51.45,"int":69},{"theta":51.55,"int":68},{"theta":51.68,"int":56},{"theta":51.85,"int":53},{"theta":52.05,"int":55},{"theta":52.25,"int":51},{"theta":52.45,"int":49},{"theta":52.65,"int":52},{"theta":52.85,"int":50},{"theta":53.05,"int":53},{"theta":53.25,"int":51},{"theta":53.45,"int":54},{"theta":53.65,"int":52},{"theta":53.85,"int":55},{"theta":54.05,"int":57},{"theta":54.25,"int":61},{"theta":54.4,"int":62},{"theta":54.55,"int":71},{"theta":54.65,"int":89},{"theta":54.72,"int":86},{"theta":54.82,"int":69},{"theta":54.95,"int":65},{"theta":55.05,"int":74},{"theta":55.15,"int":71},{"theta":55.3,"int":58},{"theta":55.5,"int":60},{"theta":55.7,"int":56},{"theta":55.9,"int":58},{"theta":56.1,"int":56},{"theta":56.3,"int":60},{"theta":56.5,"int":59},{"theta":56.7,"int":61},{"theta":56.9,"int":58},{"theta":57.1,"int":61},{"theta":57.28,"int":65},{"theta":57.42,"int":66},{"theta":57.55,"int":58},{"theta":57.75,"int":53},{"theta":57.95,"int":55},{"theta":58.15,"int":52},{"theta":58.35,"int":54},{"theta":58.55,"int":51},{"theta":58.75,"int":53},{"theta":58.95,"int":50},{"theta":59.15,"int":53},{"theta":59.35,"int":51},{"theta":59.55,"int":55},{"theta":59.75,"int":61},{"theta":59.9,"int":79},{"theta":60.0,"int":91},{"theta":60.1,"int":124},{"theta":60.18,"int":111},{"theta":60.26,"int":89},{"theta":60.35,"int":83},{"theta":60.45,"int":61},{"theta":60.65,"int":63},{"theta":60.85,"int":59},{"theta":61.05,"int":58},{"theta":61.25,"int":61},{"theta":61.45,"int":57},{"theta":61.65,"int":55},{"theta":61.85,"int":58},{"theta":62.05,"int":61},{"theta":62.25,"int":63},{"theta":62.4,"int":64},{"theta":62.55,"int":60},{"theta":62.75,"int":55},{"theta":62.95,"int":53},{"theta":63.15,"int":56},{"theta":63.35,"int":54},{"theta":63.55,"int":58},{"theta":63.75,"int":55},{"theta":63.95,"int":57},{"theta":64.15,"int":60},{"theta":64.35,"int":59},{"theta":64.55,"int":55},{"theta":64.75,"int":58},{"theta":64.95,"int":54},{"theta":65.15,"int":57},{"theta":65.35,"int":59},{"theta":65.55,"int":56},{"theta":65.75,"int":53},{"theta":65.95,"int":55},{"theta":66.15,"int":52},{"theta":66.35,"int":55},{"theta":66.55,"int":53},{"theta":66.75,"int":54},{"theta":66.95,"int":52},{"theta":67.15,"int":54},{"theta":67.35,"int":53},{"theta":67.55,"int":56},{"theta":67.7,"int":63},{"theta":67.78,"int":73},{"theta":67.88,"int":61},{"theta":67.98,"int":65},{"theta":68.1,"int":78},{"theta":68.18,"int":71},{"theta":68.3,"int":56},{"theta":68.45,"int":49},{"theta":68.65,"int":53},{"theta":68.85,"int":50},{"theta":69.05,"int":54},{"theta":69.25,"int":52},{"theta":69.45,"int":55},{"theta":69.65,"int":53},{"theta":69.85,"int":56},{"theta":70.05,"int":54},{"theta":70.25,"int":57},{"theta":70.45,"int":53},{"theta":70.65,"int":55},{"theta":70.85,"int":52},{"theta":71.05,"int":55},{"theta":71.25,"int":53},{"theta":71.45,"int":56},{"theta":71.65,"int":54},{"theta":71.85,"int":52},{"theta":72.05,"int":55},{"theta":72.25,"int":58},{"theta":72.45,"int":56},{"theta":72.65,"int":53},{"theta":72.85,"int":55},{"theta":73.05,"int":53},{"theta":73.25,"int":56},{"theta":73.45,"int":54},{"theta":73.65,"int":57},{"theta":73.9,"int":59},{"theta":74.05,"int":56},{"theta":74.2,"int":58},{"theta":74.35,"int":56},{"theta":74.55,"int":53},{"theta":74.7,"int":60},{"theta":74.85,"int":55},{"theta":74.95,"int":52},{"theta":75.15,"int":55},{"theta":75.35,"int":57},{"theta":75.55,"int":54},{"theta":75.75,"int":56},{"theta":75.95,"int":53},{"theta":76.15,"int":55},{"theta":76.35,"int":52},{"theta":76.55,"int":54},{"theta":76.75,"int":51},{"theta":76.95,"int":53},{"theta":77.15,"int":55},{"theta":77.35,"int":52},{"theta":77.55,"int":54},{"theta":77.75,"int":51},{"theta":77.95,"int":53},{"theta":78.15,"int":50},{"theta":78.35,"int":52},{"theta":78.55,"int":49},{"theta":78.75,"int":51},{"theta":78.95,"int":49},{"theta":79.15,"int":52},{"theta":79.35,"int":50},{"theta":79.55,"int":51},{"theta":79.75,"int":50},{"theta":79.88,"int":53},{"theta":79.93,"int":81},{"theta":79.97,"int":97},{"theta":80.0,"int":91}
    ],
    "fases": [
      {"theta":12.67,"int":423,"fase":"Gismondine"},
      {"theta":18.23,"int":636,"fase":"Portlandite"},
      {"theta":21.23,"int":513,"fase":"Quartzo"},
      {"theta":22.99,"int":436,"fase":"Calcita"},
      {"theta":26.79,"int":686,"fase":"Quartzo"},
      {"theta":27.93,"int":488,"fase":"Hidróxido de Sulfato de Magnésio"},
      {"theta":29.78,"int":651,"fase":"Calcita"},
      {"theta":32.52,"int":446,"fase":"Gismondine"},
      {"theta":34.28,"int":539,"fase":"Portlandite"},
      {"theta":36.49,"int":433,"fase":"Calcita"},
      {"theta":39.49,"int":459,"fase":"Calcita"},
      {"theta":42.42,"int":444,"fase":"Calcita"},
      {"theta":43.55,"int":423,"fase":"Quartzo"},
      {"theta":46.01,"int":434,"fase":"Gismondine"},
      {"theta":47.43,"int":458,"fase":"Portlandite"},
      {"theta":48.75,"int":423,"fase":"Calcita"},
      {"theta":50.12,"int":416,"fase":"Quartzo"},
      {"theta":51.26,"int":419,"fase":"Portlandite"},
      {"theta":57.39,"int":406,"fase":"Gismondine"},
      {"theta":60.39,"int":406,"fase":"Quartzo"},
      {"theta":64.36,"int":406,"fase":"Calcita"},
      {"theta":68.42,"int":398,"fase":"Quartzo"},
      {"theta":74.33,"int":396,"fase":"Quartzo"}
    ]
  },
  "encoding": {
    "x": {
      "field": "theta",
      "type": "quantitative",
      "scale": {"domain": [5, 85], "nice": false, "zero": false},
      "axis": {
        "values": [5, 10, 15, 20, 25, 30, 35, 40, 45, 50, 55, 60, 65, 70, 75, 80, 85],
        "labelExpr": "datum.value % 10 === 0 ? datum.label : ''",
        "tickSize": 15,
        "tickWidth": 2,
        "domainWidth": 2,
        "labelFontSize": 25,
        "labelPadding": 11,
        "labelFlush": false,
        "labelOverlap": false,
        "title": "2 Theta (º)",
        "titleFontSize": 31,
        "titlePadding": 10,
        "encode": {"ticks": {"update": {"y2": {"signal": "datum.value % 10 === 0 ? 15 : 8"}}}}
      }
    },
    "y": {
      "field": "int",
      "type": "quantitative",
      "scale": {"domain": [0, 689], "nice": false, "zero": false},
      "axis": {
        "values": [0, 21.5, 43, 64.5, 86, 107.5, 129, 150.5, 172, 193.5, 215, 236.5, 258, 279.5, 301, 322.5, 344, 365.5, 387, 408.5, 430, 451.5, 473, 494.5, 516, 537.5, 559, 580.5, 602, 623.5, 645, 666.5, 688],
        "labels": false,
        "tickSize": 15,
        "tickWidth": 2,
        "domainWidth": 2,
        "title": "Intensity (u.a.)",
        "titleFontSize": 37,
        "titlePadding": 21,
        "titleY": 298,
        "encode": {"ticks": {"update": {"x2": {"signal": "abs((datum.value - 21.5) % 43) < 1 ? -15 : -8"}}}}
      }
    }
  },
  "layer": [
    {
      "data": {"name": "padrao"},
      "mark": {"type": "line", "strokeWidth": 1.4},
      "encoding": {
        "stroke": {
          "datum": "Padrão",
          "type": "nominal",
          "scale": {"domain": ["Padrão", "T5", "T10", "T15"], "range": ["#800080", "#000000", "#ff0000", "#008000"]},
          "legend": {
            "orient": "none",
            "legendX": 619,
            "legendY": 16,
            "title": null,
            "padding": 0,
            "symbolType": "M-5.8,0H5.8",
            "symbolSize": 100,
            "symbolStrokeWidth": 1.5,
            "symbolOffset": 0,
            "labelFontSize": 26,
            "labelOffset": 25,
            "rowPadding": 8
          }
        }
      }
    },
    {
      "data": {"name": "t5"},
      "mark": {"type": "line", "strokeWidth": 1.4},
      "encoding": {"stroke": {"datum": "T5", "type": "nominal"}}
    },
    {
      "data": {"name": "t10"},
      "mark": {"type": "line", "strokeWidth": 1.4},
      "encoding": {"stroke": {"datum": "T10", "type": "nominal"}}
    },
    {
      "data": {"name": "t15"},
      "mark": {"type": "line", "strokeWidth": 1.4},
      "encoding": {"stroke": {"datum": "T15", "type": "nominal"}}
    },
    {
      "data": {"name": "fases"},
      "mark": {"type": "text", "fontSize": 32, "dy": 9, "align": "center"},
      "encoding": {
        "text": {"value": "*"},
        "fill": {
          "field": "fase",
          "type": "nominal",
          "scale": {
            "domain": ["Gismondine", "Quartzo", "Calcita", "Portlandite", "Hidróxido de Sulfato de Magnésio"],
            "range": ["#000000", "#ff0000", "#0000ff", "#008000", "#ff8c1a"]
          },
          "legend": {
            "orient": "none",
            "legendX": 744,
            "legendY": 16,
            "title": null,
            "padding": 0,
            "symbolOpacity": 0,
            "symbolSize": 0,
            "labelFontSize": 26,
            "labelOffset": 0,
            "labelLimit": 400,
            "rowPadding": 8,
            "labelExpr": "datum.label === 'Hidróxido de Sulfato de Magnésio' ? ['* - Hidróxido de', '\u200b\u00a0\u00a0\u00a0\u00a0Sulfato de Magnésio'] : '* - ' + datum.label",
            "encode": {"labels": {"update": {"fill": {"signal": "scale('fill', datum.value)"}, "lineHeight": {"value": 34}}}}
          }
        }
      }
    }
  ],
  "config": {
    "font": "Liberation Sans",
    "view": {"stroke": null},
    "axis": {
      "grid": false,
      "domainColor": "#000000",
      "tickColor": "#000000",
      "labelColor": "#000000",
      "titleColor": "#000000",
      "titleFontWeight": "normal",
      "labelFont": "Liberation Sans",
      "titleFont": "Liberation Sans"
    },
    "legend": {
      "labelFont": "Liberation Sans",
      "labelColor": "#000000"
    },
    "text": {"font": "Liberation Sans"}
  }
}
